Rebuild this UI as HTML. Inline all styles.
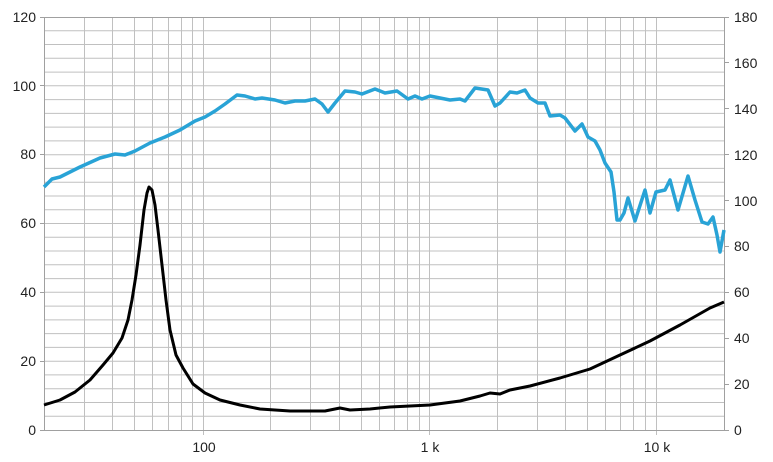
<!DOCTYPE html><html><head><meta charset="utf-8"><style>body{margin:0;background:#fff}svg{display:block;font-family:"Liberation Sans",sans-serif}</style></head><body>
<svg width="773" height="462" xmlns="http://www.w3.org/2000/svg">
<path stroke="#c0c0c0" stroke-width="1" fill="none" d="M44 30.8H724M44 44.5H724M44 58.3H724M44 72.1H724M44 85.8H724M44 99.6H724M44 113.4H724M44 127.1H724M44 140.9H724M44 154.7H724M44 168.4H724M44 182.2H724M44 196H724M44 209.7H724M44 223.5H724M44 237.3H724M44 251H724M44 264.8H724M44 278.6H724M44 292.3H724M44 306.1H724M44 319.9H724M44 333.6H724M44 347.4H724M44 361.2H724M44 374.9H724M44 388.7H724M44 402.5H724M44 416.2H724
M84.5 17V431M112.5 17V431M134.5 17V431M152.5 17V431M168.5 17V431M181.5 17V431M192.5 17V431M203.5 17V435M270.5 17V431M310.5 17V431M339.5 17V431M361.5 17V431M379.5 17V431M394.5 17V431M407.5 17V431M419.5 17V431M429.5 17V435M497.5 17V431M537.5 17V431M565.5 17V431M587.5 17V431M605.5 17V431M620.5 17V431M633.5 17V431M645.5 17V431M656.5 17V435"/>
<rect x="44.5" y="17.5" width="680" height="413" fill="none" stroke="#a0a0a0"/>
<path stroke="#a0a0a0" d="M40 430.5H44M40 361.5H44M40 292.5H44M40 223.5H44M40 154.5H44M40 85.5H44M40 17.5H44M724 430.5H729M724 384.5H729M724 338.5H729M724 292.5H729M724 246.5H729M724 200.5H729M724 154.5H729M724 108.5H729M724 62.5H729M724 17.5H729"/>
<g font-size="14" fill="#222" text-anchor="end">
<text x="36" y="435">0</text><text x="36" y="366">20</text><text x="36" y="297">40</text><text x="36" y="228">60</text><text x="36" y="159">80</text><text x="36" y="91">100</text><text x="36" y="22">120</text>
</g>
<g font-size="14" fill="#222">
<text x="734" y="435">0</text><text x="734" y="389">20</text><text x="734" y="343">40</text><text x="734" y="297">60</text><text x="734" y="251">80</text><text x="734" y="206">100</text><text x="734" y="160">120</text><text x="734" y="114">140</text><text x="734" y="68">160</text><text x="734" y="22">180</text>
</g>
<g font-size="14" fill="#222" text-anchor="middle">
<text x="204" y="452">100</text><text x="430" y="452">1 k</text><text x="657" y="452">10 k</text>
</g>
<polyline fill="none" stroke="#000" stroke-width="3" stroke-linejoin="round" points="44,405 60,400 75,392 90,380 103,365 113,353 122,338 128,320 132,300 136,275 140,245 144,210 147,193 149,187 152,190 155,205 158,230 162,265 166,300 170,330 176,355 183,368 193,384 205,393 220,400 240,405 260,409 290,411 325,411 340,408 350,410 370,409 390,407 410,406 430,405 460,401 480,396 490,393 500,394 510,390 530,386 560,378 590,369 620,355 650,341 680,325 710,308 724,302"/>
<polyline fill="none" stroke="#29a3d6" stroke-width="3.5" stroke-linejoin="round" points="44,187 52,179 60,177 80,167 100,158 115,154 125,155 135,151 150,143 165,137 180,130 195,121 205,117 215,111 225,104 237,95 245,96 255,99 262,98 275,100 285,103 295,101 305,101 315,99 322,104 328,112 335,103 345,91 355,92 362,94 375,89 385,93 397,91 408,99 415,96 422,99 430,96 440,98 450,100 460,99 465,101 475,88 488,90 495,106 500,103 510,92 517,93 525,90 530,98 538,103 545,103 550,116 560,115 565,118 575,131 582,124 588,137 595,141 600,150 605,163 611,172 614,192 617,220 620,220 624,213 628,198 635,221 645,190 650,213 656,192 665,190 670,180 678,210 688,176 695,200 702,222 708,224 713,217 717,235 720,252 724,230"/>
</svg></body></html>
